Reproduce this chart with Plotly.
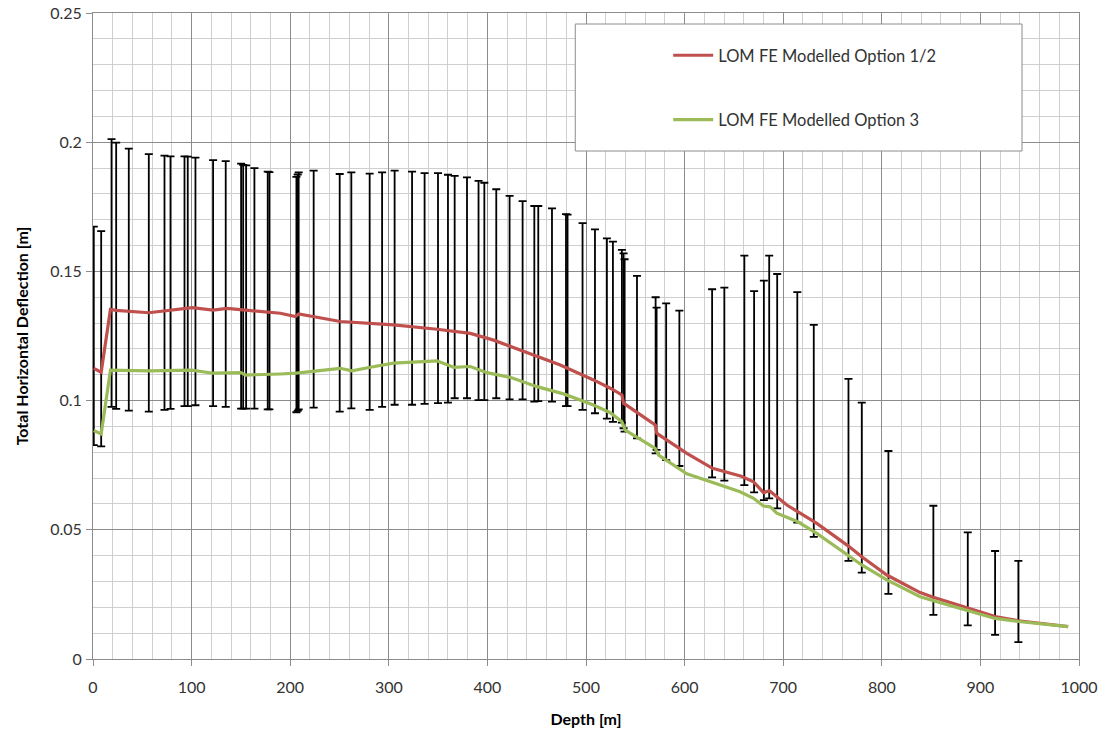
import plotly.graph_objects as go

# ---------------- data ----------------
bar_depth = [0.8, 8.3, 18.8, 23.5, 36.3, 56.6, 72.5, 78.6, 92.8, 96.1, 103.9, 121.8, 134.6, 150.2, 152.3,
             155.3, 163.7, 177.2, 178.9, 206.3, 207.6, 208.6, 223.8, 250.2, 262.0, 280.6, 293.2, 305.9,
             323.6, 336.3, 349.9, 360.0, 366.8, 379.3, 391.0, 396.9, 409.0, 422.5, 435.7, 447.6, 451.6,
             465.5, 479.7, 481.3, 496.5, 509.1, 521.2, 527.3, 536.4, 538.1, 539.1, 551.7, 570.6, 571.6,
             581.3, 594.7, 627.9, 640.3, 660.6, 670.5, 680.4, 685.8, 693.9, 714.3, 731.0, 766.2, 779.7,
             806.7, 852.3, 887.2, 914.9, 938.5]
bar_top = [0.1673, 0.1656, 0.2012, 0.1998, 0.1975, 0.1954, 0.1948, 0.1945, 0.1945, 0.1944, 0.1940, 0.1931,
           0.1927, 0.1917, 0.1912, 0.1910, 0.1900, 0.1886, 0.1884, 0.1866, 0.1875, 0.1883, 0.1890, 0.1877,
           0.1883, 0.1878, 0.1883, 0.1890, 0.1886, 0.1880, 0.1880, 0.1874, 0.1870, 0.1864, 0.1850, 0.1843,
           0.1818, 0.1792, 0.1772, 0.1753, 0.1753, 0.1744, 0.1722, 0.1720, 0.1687, 0.1663, 0.1628, 0.1615,
           0.1583, 0.1570, 0.1547, 0.1483, 0.1400, 0.1360, 0.1376, 0.1348, 0.1431, 0.1437, 0.1561, 0.1424,
           0.1464, 0.1561, 0.1490, 0.1420, 0.1293, 0.1084, 0.0992, 0.0805, 0.0593, 0.0490, 0.0418, 0.0380]
bar_bottom = [0.0828, 0.0823, 0.0976, 0.0968, 0.0961, 0.0957, 0.0964, 0.0968, 0.0979, 0.0979, 0.0982, 0.0979,
              0.0976, 0.0969, 0.0969, 0.0969, 0.0969, 0.0966, 0.0966, 0.0955, 0.0960, 0.0966, 0.0973, 0.0957,
              0.0970, 0.0964, 0.0976, 0.0984, 0.0984, 0.0987, 0.0990, 0.0992, 0.1009, 0.1009, 0.1002, 0.1002,
              0.1009, 0.1005, 0.1005, 0.0996, 0.0998, 0.0996, 0.0979, 0.0979, 0.0964, 0.0951, 0.0930, 0.0918,
              0.0915, 0.0893, 0.0880, 0.0854, 0.0796, 0.0809, 0.0770, 0.0747, 0.0703, 0.0690, 0.0673, 0.0645,
              0.0615, 0.0622, 0.0583, 0.0528, 0.0473, 0.0380, 0.0334, 0.0252, 0.0171, 0.0130, 0.0093, 0.0065]

red_depth = [0.8, 8.3, 17.7, 23.5, 56.6, 100.6, 121.8, 136.0, 154.6, 190.0, 205.3, 208.6, 250.8, 281.2,
             304.9, 348.9, 382.7, 406.3, 440.1, 473.9, 507.6, 524.6, 536.4, 538.1, 570.2, 571.9, 602.3,
             628.3, 657.5, 669.9, 680.0, 686.1, 703.7, 734.1, 766.2, 779.7, 805.1, 838.9, 852.3, 887.2,
             914.9, 938.5, 989.0]
red_val = [0.1125, 0.1110, 0.1353, 0.1349, 0.1340, 0.1360, 0.1350, 0.1357, 0.1350, 0.1338, 0.1325, 0.1335,
           0.1306, 0.1299, 0.1293, 0.1276, 0.1260, 0.1234, 0.1187, 0.1138, 0.1080, 0.1048, 0.1022, 0.0990,
           0.0906, 0.0873, 0.0796, 0.0738, 0.0707, 0.0686, 0.0644, 0.0651, 0.0596, 0.0525, 0.0437, 0.0396,
           0.0325, 0.0257, 0.0239, 0.0196, 0.0164, 0.0148, 0.0125]

green_depth = [0.8, 8.3, 17.7, 56.6, 100.0, 121.8, 150.0, 154.6, 190.0, 206.3, 250.8, 262.6, 281.2, 304.9,
               348.9, 365.8, 382.7, 399.5, 423.2, 450.3, 477.2, 507.6, 524.6, 536.4, 539.8, 570.2, 573.6,
               602.3, 656.3, 669.9, 680.0, 686.8, 693.5, 714.8, 734.1, 766.2, 779.7, 805.1, 838.9, 852.3,
               887.2, 914.9, 938.5, 989.0]
green_val = [0.0884, 0.0871, 0.1118, 0.1115, 0.1118, 0.1106, 0.1108, 0.1099, 0.1103, 0.1106, 0.1125, 0.1115,
             0.1129, 0.1145, 0.1154, 0.1129, 0.1132, 0.1108, 0.1090, 0.1054, 0.1026, 0.0983, 0.0953, 0.0918,
             0.0886, 0.0815, 0.0789, 0.0717, 0.0647, 0.0622, 0.0592, 0.0589, 0.0564, 0.0531, 0.0486, 0.0402,
             0.0364, 0.0306, 0.0241, 0.0226, 0.0187, 0.0157, 0.0145, 0.0125]

series_names = ["LOM FE Modelled Option 1/2", "LOM FE Modelled Option 3"]
x_title = "Depth [m]"
y_title = "Total Horizontal Deflection [m]"

# ---------------- figure ----------------
FONT = "Lato, 'Open Sans', sans-serif"
bar_mid = [(t + b) / 2 for t, b in zip(bar_top, bar_bottom)]
bar_half = [(t - b) / 2 for t, b in zip(bar_top, bar_bottom)]

fig = go.Figure()
fig.add_trace(go.Scatter(
    x=bar_depth, y=bar_mid, mode="markers",
    marker=dict(size=1, color="rgba(0,0,0,0)"),
    error_y=dict(type="data", array=bar_half, symmetric=True, color="#000000",
                 thickness=1.8, width=4),
    showlegend=False, hoverinfo="skip"))
fig.add_trace(go.Scatter(
    x=red_depth, y=red_val, mode="lines", name=series_names[0],
    line=dict(color="#C0504D", width=3.2), legendgroup="a"))
fig.add_trace(go.Scatter(
    x=green_depth, y=green_val, mode="lines", name=series_names[1],
    line=dict(color="#9BBB59", width=3.2), legendgroup="b"))

L, R, T, B = 92.5, 23, 13, 74
W, H = 1102, 733
pw, ph = W - L - R, H - T - B


def px(xp):
    return (xp - L) / pw


def py(yp):
    return (H - B - yp) / ph


fig.add_shape(type="rect", xref="paper", yref="paper",
              x0=px(575), x1=px(1022), y0=py(151), y1=py(24),
              fillcolor="white", line=dict(color="#8c8c8c", width=1), layer="above")

fig.update_layout(
    width=W, height=H,
    margin=dict(l=L, r=R, t=T, b=B, pad=0, autoexpand=False),
    paper_bgcolor="white", plot_bgcolor="white",
    font=dict(family=FONT, size=16, color="#333333"),
    showlegend=True,
    legend=dict(x=px(668), y=py(38), xanchor="left", yanchor="top",
                bgcolor="rgba(0,0,0,0)", borderwidth=0,
                font=dict(family=FONT, size=16.5, color="#333333"),
                tracegroupgap=40, itemwidth=40),
    xaxis=dict(range=[0, 1000], dtick=100, tick0=0, automargin=False,
               showgrid=True, gridcolor="#8c8c8c", gridwidth=1,
               minor=dict(dtick=20, showgrid=True, gridcolor="#cfcfcf", gridwidth=1),
               showline=True, linecolor="#8c8c8c", linewidth=1, mirror=True,
               ticks="outside", ticklen=6, tickcolor="#8c8c8c", ticklabelstandoff=8,
               zeroline=False,
               title=dict(text="<b>" + x_title + "</b>", font=dict(size=16, color="#000000"), standoff=18),
               tickfont=dict(size=16)),
    yaxis=dict(range=[0, 0.25], dtick=0.05, tick0=0, automargin=False,
               showgrid=True, gridcolor="#8c8c8c", gridwidth=1,
               minor=dict(dtick=0.01, showgrid=True, gridcolor="#cfcfcf", gridwidth=1),
               showline=True, linecolor="#8c8c8c", linewidth=1, mirror=True,
               ticks="outside", ticklen=6, tickcolor="#8c8c8c", ticklabelstandoff=1,
               zeroline=False,
               title=dict(text="<b>" + y_title + "</b>", font=dict(size=16, color="#000000"), standoff=17),
               tickfont=dict(size=16)),
)

fig.write_html("out.html")
